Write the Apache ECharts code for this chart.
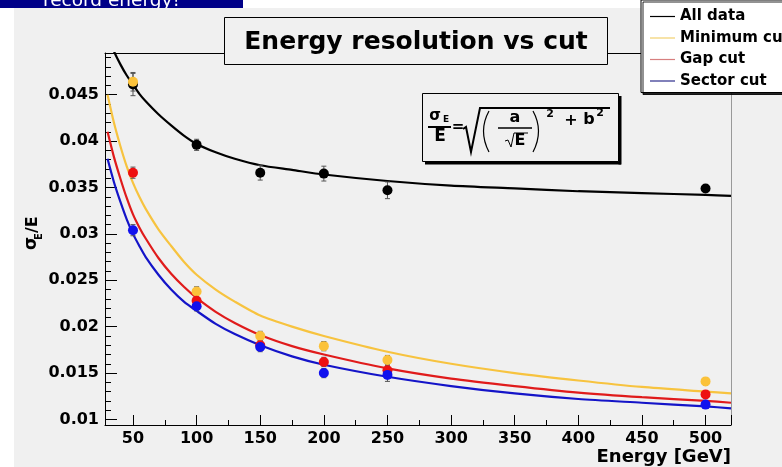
<!DOCTYPE html>
<html><head><meta charset="utf-8">
<script src="https://cdn.jsdelivr.net/npm/echarts@6/dist/echarts.min.js"></script>
<style>html,body{margin:0;padding:0;background:#fff}#c{width:782px;height:467px}</style>
</head><body><div id="c"></div>
<script>
// ---- data ----
const energies = [50, 100, 150, 200, 250, 500];
const allData   = [0.0461, 0.0396, 0.0366, 0.0365, 0.0347, 0.0349];
const allErr    = [0.0012, 0.0006, 0.0008, 0.0008, 0.0009, 0.0004];
const minCut    = [0.0464, 0.0238, 0.0190, 0.0179, 0.0164, 0.0141];
const minErr    = [0.0010, 0.0005, 0.0005, 0.0005, 0.0005, 0.0004];
const gapCut    = [0.0366, 0.0228, 0.0180, 0.0162, 0.0153, 0.0127];
const gapErr    = [0.0006, 0.0005, 0.0005, 0.0005, 0.0005, 0.0004];
const sectorCut = [0.0304, 0.0222, 0.0178, 0.0150, 0.0148, 0.0116];
const sectorErr = [0.0006, 0.0005, 0.0005, 0.0005, 0.0007, 0.0004];

const fitE      = [30, 35, 40, 45, 50, 55, 60, 70, 80, 90, 100, 115, 130, 150, 175, 200, 250, 300, 350, 400, 450, 500, 520];
const fitAll    = [0.0515, 0.0497, 0.0483, 0.0471, 0.0461, 0.0451, 0.0443, 0.0429, 0.0417, 0.0406, 0.0397, 0.0388, 0.0381, 0.0374, 0.0369, 0.0364, 0.0357, 0.0352, 0.0349, 0.0346, 0.0344, 0.0342, 0.0341];
const fitMin    = [0.0450, 0.0420, 0.0395, 0.0373, 0.0355, 0.0340, 0.0327, 0.0305, 0.0287, 0.0270, 0.0256, 0.0240, 0.0227, 0.0212, 0.0200, 0.0190, 0.0173, 0.0160, 0.0150, 0.0142, 0.0135, 0.0130, 0.0128];
const fitGap    = [0.0410, 0.0383, 0.0360, 0.0339, 0.0321, 0.0307, 0.0295, 0.0274, 0.0257, 0.0243, 0.0231, 0.0216, 0.0204, 0.0191, 0.0179, 0.0170, 0.0155, 0.0144, 0.0136, 0.0129, 0.0124, 0.0120, 0.0118];
const fitSector = [0.0381, 0.0356, 0.0335, 0.0316, 0.0300, 0.0287, 0.0275, 0.0256, 0.0240, 0.0227, 0.0217, 0.0203, 0.0192, 0.0180, 0.0168, 0.0159, 0.0146, 0.0136, 0.0128, 0.0122, 0.0118, 0.0114, 0.0112];

const names = ['All data', 'Minimum cut', 'Gap cut', 'Sector cut'];
const titleText = 'Energy resolution vs cut';
const xName = 'Energy [GeV]';
const bannerText = 'record energy!';

// ---- styling ----
const FONT = 'DejaVu Sans';
const BG = '#f0f0f0';
const dotColors = ['#000000', '#fbc23a', '#ee1111', '#1111ee'];
const lineColors = ['#000000', '#f7c33f', '#e01b1b', '#1414c8'];
const legendColors = ['#000000', '#f2d06e', '#d77f7f', '#2d2d8c'];

const pts = arr => energies.map((e, i) => [e, arr[i]]);
const fit = arr => fitE.map((e, i) => [e, arr[i]]);
const errData = (vals, errs) => energies.map((e, i) => [e, vals[i] - errs[i], vals[i] + errs[i]]);

function errSeries(vals, errs) {
  return {
    type: 'custom', silent: true, z: 3,
    data: errData(vals, errs),
    renderItem: function (params, api) {
      const x = api.value(0);
      const lo = api.coord([x, api.value(1)]);
      const hi = api.coord([x, api.value(2)]);
      const w = 2.5, c = '#555';
      return { type: 'group', children: [
        { type: 'line', shape: { x1: lo[0], y1: lo[1], x2: hi[0], y2: hi[1] }, style: { stroke: c, lineWidth: 1 } },
        { type: 'line', shape: { x1: lo[0] - w, y1: lo[1], x2: lo[0] + w, y2: lo[1] }, style: { stroke: c, lineWidth: 1 } },
        { type: 'line', shape: { x1: hi[0] - w, y1: hi[1], x2: hi[0] + w, y2: hi[1] }, style: { stroke: c, lineWidth: 1 } }
      ]};
    }
  };
}

const series = [];
const fits = [fitAll, fitMin, fitGap, fitSector];
const vals = [allData, minCut, gapCut, sectorCut];
const errs = [allErr, minErr, gapErr, sectorErr];
for (let k = 0; k < 4; k++) {
  series.push({
    name: names[k], type: 'line', data: fit(fits[k]), smooth: 0.25,
    showSymbol: false, clip: true, z: 2,
    lineStyle: { color: lineColors[k], width: 2.2 }, itemStyle: { color: lineColors[k] }
  });
}
for (let k = 0; k < 4; k++) {
  series.push(errSeries(vals[k], errs[k]));
  series.push({
    name: names[k], type: 'scatter', data: pts(vals[k]), symbol: 'circle', symbolSize: 10, z: 4,
    itemStyle: { color: dotColors[k], opacity: 1 }
  });
}

const chart = echarts.init(document.getElementById('c'), null, { renderer: 'canvas' });
chart.setOption({
  animation: false,
  backgroundColor: '#ffffff',
  textStyle: { fontFamily: FONT },
  grid: { left: 105, right: 51, top: 53, bottom: 42, show: false, containLabel: false },
  legend: {
    orient: 'vertical', left: 641, top: 0,
    padding: [9, 8, 4, 9], itemGap: 6.5,
    icon: 'rect', itemWidth: 25, itemHeight: 1.2,
    backgroundColor: '#ffffff', borderColor: '#000', borderWidth: 1,
    shadowColor: 'rgba(0,0,0,0.85)', shadowOffsetX: 2, shadowOffsetY: 2, shadowBlur: 0,
    textStyle: { fontFamily: FONT, fontWeight: 'bold', fontSize: 15, color: '#000', lineHeight: 15 },
    data: names.map((n, i) => ({ name: n, itemStyle: { color: legendColors[i] } }))
  },
  xAxis: [{
    type: 'value', min: 28, max: 520, splitNumber: 10,
    axisLine: { lineStyle: { color: '#000', width: 1 } },
    axisTick: { inside: true, length: 10, lineStyle: { color: '#000' } },
    minorTick: { show: true, splitNumber: 2, length: 5, lineStyle: { color: '#000' } },
    splitLine: { show: false },
    axisLabel: { showMinLabel: false, showMaxLabel: false, margin: 6,
      fontFamily: FONT, fontWeight: 'bold', fontSize: 16, color: '#000' }
  }, {
    type: 'value', position: 'top', min: 28, max: 520,
    axisLine: { show: true, onZero: false, lineStyle: { color: '#000' } },
    axisTick: { show: false }, axisLabel: { show: false }, splitLine: { show: false }
  }],
  yAxis: [{
    type: 'value', min: 0.0094, max: 0.0495, splitNumber: 8,
    axisLine: { show: true, lineStyle: { color: '#000', width: 1 } },
    axisTick: { show: true, inside: true, length: 12, lineStyle: { color: '#000' } },
    minorTick: { show: true, splitNumber: 5, length: 6, lineStyle: { color: '#000' } },
    splitLine: { show: false },
    axisLabel: { showMinLabel: false, showMaxLabel: false, margin: 6,
      fontFamily: FONT, fontWeight: 'bold', fontSize: 16, color: '#000' }
  }, {
    type: 'value', position: 'right', min: 0.0094, max: 0.0495,
    axisLine: { show: true, onZero: false, lineStyle: { color: '#999' } },
    axisTick: { show: false }, axisLabel: { show: false }, splitLine: { show: false }
  }],
  series: series,
  graphic: [
    { type: 'rect', z: -10, silent: true, shape: { x: 14, y: 8, width: 768, height: 459 }, style: { fill: BG } },
    { type: 'rect', z: 10, shape: { x: 0, y: 0, width: 243, height: 8 }, style: { fill: '#000088' } },
    { type: 'text', z: 11, x: 43, y: 11, style: { text: bannerText, fill: '#fff', font: '18.5px "DejaVu Sans"', verticalAlign: 'bottom' },
      clipPath: { type: 'rect', shape: { x: -43, y: -11, width: 243, height: 8 } } },
    // title box
    { type: 'rect', z: 10, shape: { x: 224.5, y: 17.5, width: 383, height: 47 }, style: { fill: BG, stroke: '#000', lineWidth: 1 } },
    { type: 'text', z: 11, x: 416, y: 42, style: { text: titleText, fill: '#000', font: 'bold 25px "DejaVu Sans"', align: 'center', verticalAlign: 'middle' } },
    { type: 'line', z: 9, shape: { x1: 607, y1: 53.5, x2: 641, y2: 53.5 }, style: { stroke: '#000', lineWidth: 1 } },
    // x axis name
    { type: 'text', z: 11, x: 731, y: 457, style: { text: xName, fill: '#000', font: 'bold 18px "DejaVu Sans"', align: 'right', verticalAlign: 'middle' } },
    // y axis name (rotated)
    { type: 'group', z: 11, x: 38, y: 236, rotation: Math.PI / 2, children: [
      { type: 'text', x: -14, y: 2, style: { text: 'σ', fill: '#000', font: 'bold 17px "DejaVu Sans"', verticalAlign: 'bottom' } },
      { type: 'text', x: -4, y: 6, style: { text: 'E', fill: '#000', font: 'bold 10px "DejaVu Sans"', verticalAlign: 'bottom' } },
      { type: 'text', x: 3, y: 3, style: { text: '/E', fill: '#000', font: 'bold 16px "DejaVu Sans"', verticalAlign: 'bottom' } }
    ]},
    // formula box
    { type: 'rect', z: 10, shape: { x: 422.5, y: 93.5, width: 196, height: 68 }, style: { fill: BG, stroke: '#000', lineWidth: 1 } },
    { type: 'line', z: 10, shape: { x1: 425, y1: 163, x2: 621, y2: 163 }, style: { stroke: '#000', lineWidth: 3 } },
    { type: 'line', z: 10, shape: { x1: 620, y1: 96, x2: 620, y2: 164.5 }, style: { stroke: '#000', lineWidth: 3 } },
    { type: 'text', z: 11, x: 435, y: 116, style: { text: 'σ', fill: '#000', font: 'bold 15px "DejaVu Sans"', align: 'center', verticalAlign: 'middle' } },
    { type: 'text', z: 11, x: 446, y: 120, style: { text: 'E', fill: '#000', font: 'bold 9px "DejaVu Sans"', align: 'center', verticalAlign: 'middle' } },
    { type: 'line', z: 11, shape: { x1: 428, y1: 127, x2: 451, y2: 127 }, style: { stroke: '#000', lineWidth: 2 } },
    { type: 'text', z: 11, x: 440, y: 137, style: { text: 'E', fill: '#000', font: 'bold 17px "DejaVu Sans"', align: 'center', verticalAlign: 'middle' } },
    { type: 'text', z: 11, x: 458, y: 127, style: { text: '=', fill: '#000', font: 'bold 15px "DejaVu Sans"', align: 'center', verticalAlign: 'middle' } },
    { type: 'polyline', z: 11, shape: { points: [[463, 129], [466, 127], [471, 152], [480, 108], [610, 108]] }, style: { stroke: '#000', lineWidth: 2, fill: null } },
    { type: 'bezierCurve', z: 11, shape: { x1: 489, y1: 111, x2: 489, y2: 152, cpx1: 478, cpy1: 131 }, style: { stroke: '#000', lineWidth: 1.2, fill: null } },
    { type: 'bezierCurve', z: 11, shape: { x1: 533, y1: 111, x2: 533, y2: 152, cpx1: 544, cpy1: 131 }, style: { stroke: '#000', lineWidth: 1.2, fill: null } },
    { type: 'text', z: 11, x: 515, y: 118, style: { text: 'a', fill: '#000', font: 'bold 16px "DejaVu Sans"', align: 'center', verticalAlign: 'middle' } },
    { type: 'line', z: 11, shape: { x1: 498, y1: 128, x2: 532, y2: 128 }, style: { stroke: '#000', lineWidth: 1.5 } },
    { type: 'polyline', z: 11, shape: { points: [[505, 141], [508, 140], [511, 147], [514, 133], [528, 133]] }, style: { stroke: '#000', lineWidth: 1, fill: null } },
    { type: 'text', z: 11, x: 520, y: 141, style: { text: 'E', fill: '#000', font: 'bold 16px "DejaVu Sans"', align: 'center', verticalAlign: 'middle' } },
    { type: 'text', z: 11, x: 550, y: 114, style: { text: '2', fill: '#000', font: 'bold 11px "DejaVu Sans"', align: 'center', verticalAlign: 'middle' } },
    { type: 'text', z: 11, x: 571, y: 121, style: { text: '+', fill: '#000', font: 'bold 16px "DejaVu Sans"', align: 'center', verticalAlign: 'middle' } },
    { type: 'text', z: 11, x: 589, y: 120, style: { text: 'b', fill: '#000', font: 'bold 16px "DejaVu Sans"', align: 'center', verticalAlign: 'middle' } },
    { type: 'text', z: 11, x: 600, y: 113, style: { text: '2', fill: '#000', font: 'bold 11px "DejaVu Sans"', align: 'center', verticalAlign: 'middle' } }
  ]
});
</script></body></html>
